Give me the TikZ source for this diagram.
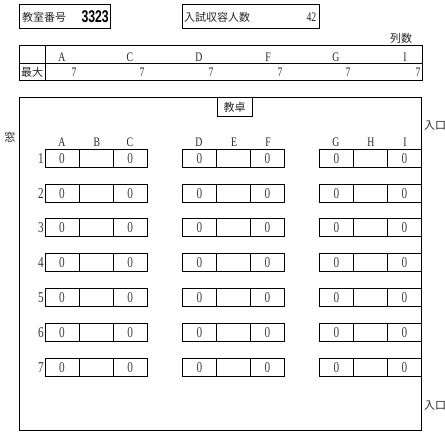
\documentclass[tikz,border=0pt]{standalone}
\usepackage{fontspec}
\newfontfamily\cjk{Noto Sans CJK JP}
\newfontfamily\latf[FakeStretch=0.75]{Liberation Serif}
\newfontfamily\numf[FakeStretch=0.72]{Liberation Sans}
\begin{document}
\begin{tikzpicture}[x=1pt,y=-1pt,
  boxline/.style={draw=black,line width=0.9pt},
  thinline/.style={draw=black,line width=0.7pt},
  jp/.style={font=\cjk\fontsize{11}{11}\selectfont,inner sep=0pt,text=black!85},
  lat/.style={font=\latf\fontsize{13}{13}\selectfont,inner sep=0pt,text=black!85},
  dig/.style={font=\latf\fontsize{15}{15}\selectfont,inner sep=0pt,text=black!80},
  desk/.style={draw=black,line width=1pt,minimum width=34.07pt,minimum height=18pt,inner sep=0pt,outer sep=0pt,anchor=north west,font=\latf\fontsize{15}{15}\selectfont,text=black!75}]
\useasboundingbox (0,0) rectangle (445,433);
% header boxes
\draw[boxline] (19.5,4.5) rectangle (110.5,28.5);
\node[jp,anchor=west] (lblroom) at (22,17) {教室番号};
\node[font=\numf\bfseries\fontsize{17}{17}\selectfont,inner sep=0pt,anchor=east] (roomno) at (109,16.5) {3323};
\draw[boxline] (182,4.5) rectangle (319,28.5);
\node[jp,anchor=west] (lblcap) at (184,17) {入試収容人数};
\node[lat,anchor=east] (capno) at (316.5,17) {42};
\node[jp] (lblcols) at (401,38) {列数};
% table
\draw[boxline] (19.5,45.5) rectangle (422,80);
\draw[thinline] (19.5,63) -- (422,63);
\draw[thinline] (45,45.5) -- (45,80);
\node[jp] (lblmax) at (32,72) {最大};
\foreach \c/\x/\v in {A/62/74,C/130/142,D/199/211,F/268/280,G/336/348,I/405/418}{
  \node[lat] (th\c) at (\x,57.5) {\c};
  \node[lat] (tv\c) at (\v,72.5) {7};
}
% room
\draw[thinline] (19.5,97.5) rectangle (421.5,430);
\node[draw=black,line width=0.8pt,minimum width=35pt,minimum height=18.5pt,inner sep=0pt,anchor=north west,jp] (podium) at (216.7,97.5) {教卓};
\node[jp] (window) at (10,137) {窓};
\node[jp] (entry1) at (435,126) {入口};
\node[jp] (entry2) at (435,406) {入口};
% column letters
\foreach \c/\x in {A/62,B/97,C/130,D/199,E/234,F/268,G/336,H/371,I/405}{
  \node[lat] (col\c) at (\x,142.5) {\c};
}
% desks
\foreach \r in {1,...,7}{
  \pgfmathsetmacro{\yt}{149.3+34.8*(\r-1)}
  \node[dig,anchor=east] (row\r) at (44,\yt+9) {\r};
  \foreach \g/\gx in {1/45,2/182.3,3/319.3}{
    \node[desk] (d\r-\g-1) at (\gx,\yt) {0};
    \node[desk] (d\r-\g-2) at (\gx+34.07,\yt) {};
    \node[desk] (d\r-\g-3) at (\gx+68.14,\yt) {0};
  }
}
\end{tikzpicture}
\end{document}
